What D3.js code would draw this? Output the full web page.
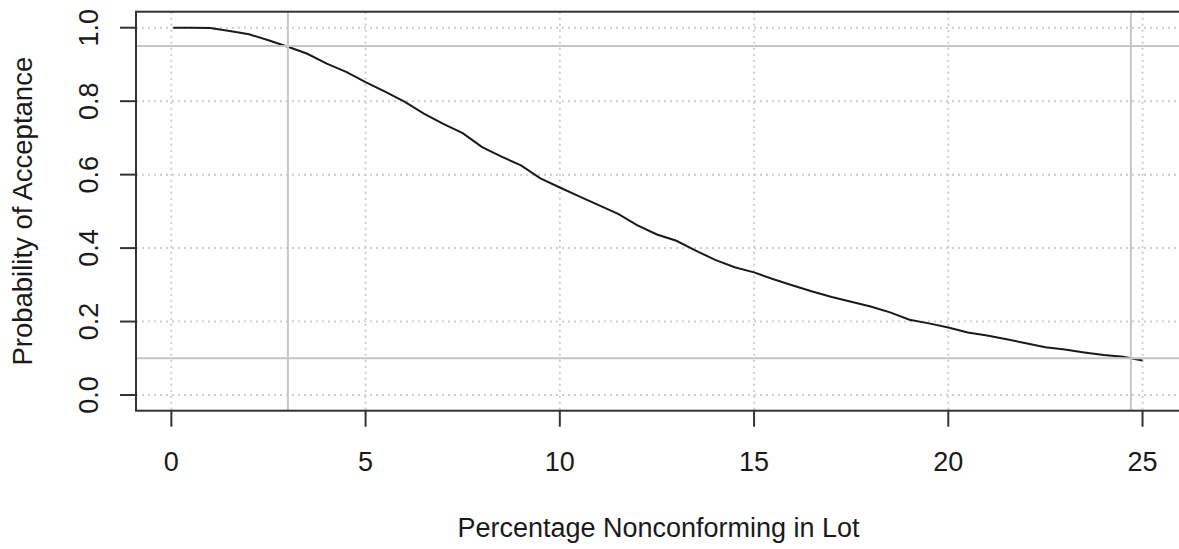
<!DOCTYPE html>
<html lang="en">
  <head>
    <title>OC Curve</title>
    <script src="https://d3js.org/d3.v7.min.js"></script>
    <style>
      body {
        margin: 0;
        background: white;
      }
      text {
        font-family: "Liberation Sans", Arial, sans-serif;
        fill: #1a1a1a;
      }
      .grid {
        stroke: #cdcdcd;
        stroke-width: 2;
        stroke-dasharray: 2, 4;
      }
      .ref {
        stroke: #c6c6c6;
        stroke-width: 2;
      }
      .tick {
        stroke: #333;
        stroke-width: 2;
      }
    </style>
  </head>
  <body>
    <div id="chart"></div>
    <script>
      let width = 1179;
      let height = 549;

      // Percentage nonconforming (x) and probability of acceptance (y)
      let pctNonconforming = [
        0.05, 0.5, 1, 1.5, 2, 2.5, 3, 3.5, 4, 4.5, 5, 5.5, 6, 6.5, 7, 7.5, 8,
        8.5, 9, 9.5, 10, 10.5, 11, 11.5, 12, 12.5, 13, 13.5, 14, 14.5, 15,
        15.5, 16, 16.5, 17, 17.5, 18, 18.5, 19, 19.5, 20, 20.5, 21, 21.5, 22,
        22.5, 23, 23.5, 24, 24.5, 25,
      ];
      let probAccept = [
        1.0, 1.0, 0.999, 0.991, 0.982, 0.966, 0.948, 0.929, 0.902, 0.88,
        0.852, 0.826, 0.799, 0.766, 0.738, 0.713, 0.675, 0.649, 0.625, 0.59,
        0.565, 0.541, 0.517, 0.493, 0.462, 0.437, 0.42, 0.393, 0.368, 0.348,
        0.334, 0.315, 0.298, 0.282, 0.267, 0.254, 0.241, 0.225, 0.205, 0.195,
        0.184, 0.17, 0.162, 0.152, 0.141, 0.13, 0.124, 0.116, 0.109, 0.104,
        0.094,
      ];

      let xTicks = [0, 5, 10, 15, 20, 25];
      let yTicks = [0, 0.2, 0.4, 0.6, 0.8, 1.0];

      // reference lines: AQL / LTPD and their acceptance levels
      let refX = [3, 24.7];
      let refY = [0.95, 0.1];

      let data = pctNonconforming.map(function (d, i) {
        return { p: d, pa: probAccept[i] };
      });

      let box = { left: 136, right: 1181, top: 11.7, bottom: 410.7 };

      let x = d3.scaleLinear().domain([-0.91, 25.99]).range([box.left, box.right]);
      let y = d3.scaleLinear().domain([-0.0427, 1.0436]).range([box.bottom, box.top]);

      let svg = d3
        .select("#chart")
        .append("svg")
        .attr("width", width)
        .attr("height", height);

      // Grid (dotted)
      let grid = svg.append("g");
      grid
        .selectAll("line.gx")
        .data(xTicks)
        .enter()
        .append("line")
        .classed("grid", true)
        .attr("x1", function (d) { return x(d); })
        .attr("x2", function (d) { return x(d); })
        .attr("y1", box.top)
        .attr("y2", box.bottom);
      grid
        .selectAll("line.gy")
        .data(yTicks)
        .enter()
        .append("line")
        .classed("grid", true)
        .attr("x1", box.left)
        .attr("x2", box.right)
        .attr("y1", function (d) { return y(d); })
        .attr("y2", function (d) { return y(d); });

      // Curve
      let line = d3
        .line()
        .x(function (d) { return x(d.p); })
        .y(function (d) { return y(d.pa); });
      svg
        .append("path")
        .datum(data)
        .attr("d", line)
        .attr("fill", "none")
        .attr("stroke", "#1a1a1a")
        .attr("stroke-width", 2);

      // Reference lines
      let refs = svg.append("g");
      refs
        .selectAll("line.rx")
        .data(refX)
        .enter()
        .append("line")
        .classed("ref", true)
        .attr("x1", function (d) { return x(d); })
        .attr("x2", function (d) { return x(d); })
        .attr("y1", box.top)
        .attr("y2", box.bottom);
      refs
        .selectAll("line.ry")
        .data(refY)
        .enter()
        .append("line")
        .classed("ref", true)
        .attr("x1", box.left)
        .attr("x2", box.right)
        .attr("y1", function (d) { return y(d); })
        .attr("y2", function (d) { return y(d); });

      // Box
      svg
        .append("rect")
        .attr("x", box.left)
        .attr("y", box.top)
        .attr("width", box.right - box.left)
        .attr("height", box.bottom - box.top)
        .attr("fill", "none")
        .attr("stroke", "#333")
        .attr("stroke-width", 2);

      // X axis ticks and labels
      let xAxis = svg.append("g");
      xAxis
        .selectAll("line")
        .data(xTicks)
        .enter()
        .append("line")
        .classed("tick", true)
        .attr("x1", function (d) { return x(d); })
        .attr("x2", function (d) { return x(d); })
        .attr("y1", box.bottom)
        .attr("y2", box.bottom + 16);
      xAxis
        .selectAll("text")
        .data(xTicks)
        .enter()
        .append("text")
        .attr("x", function (d) { return x(d); })
        .attr("y", 470.5)
        .attr("text-anchor", "middle")
        .style("font-size", "27px")
        .text(function (d) { return d; });

      // Y axis ticks and labels
      let yAxis = svg.append("g");
      yAxis
        .selectAll("line")
        .data(yTicks)
        .enter()
        .append("line")
        .classed("tick", true)
        .attr("x1", box.left - 16)
        .attr("x2", box.left)
        .attr("y1", function (d) { return y(d); })
        .attr("y2", function (d) { return y(d); });
      yAxis
        .selectAll("text")
        .data(yTicks)
        .enter()
        .append("text")
        .attr("transform", function (d) {
          return "translate(98," + y(d) + ") rotate(-90)";
        })
        .attr("text-anchor", "middle")
        .style("font-size", "27px")
        .text(function (d) { return d.toFixed(1); });

      // Axis titles
      svg
        .append("text")
        .attr("x", (box.left + box.right) / 2)
        .attr("y", 537)
        .attr("text-anchor", "middle")
        .style("font-size", "27px")
        .text("Percentage Nonconforming in Lot");
      svg
        .append("text")
        .attr("transform", "translate(32," + (box.top + box.bottom) / 2 + ") rotate(-90)")
        .attr("text-anchor", "middle")
        .style("font-size", "27.5px")
        .text("Probability of Acceptance");
    </script>
  </body>
</html>
